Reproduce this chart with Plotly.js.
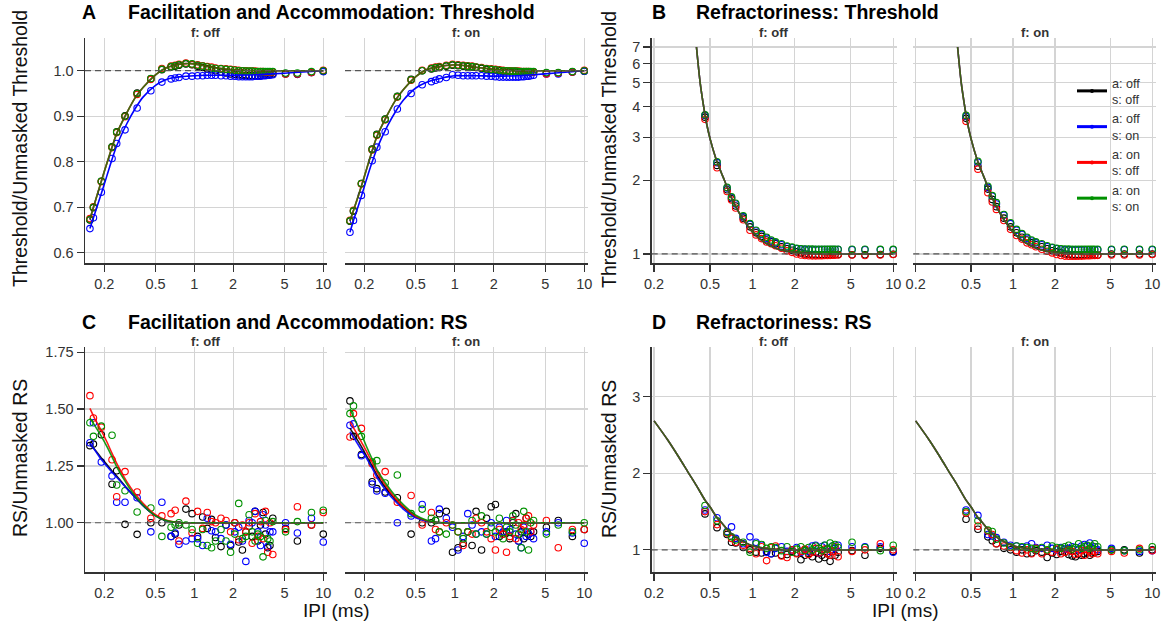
<!DOCTYPE html>
<html><head><meta charset="utf-8">
<script src="https://cdn.plot.ly/plotly-3.0.1.min.js"></script>
<style>html,body{margin:0;padding:0;background:#fff}#plot{width:1168px;height:622px}</style>
</head><body><div id="plot"></div>
<script>
// ---------- categories / series ----------
const seriesNames = ['a: off<br>s: off','a: off<br>s: on','a: on<br>s: off','a: on<br>s: on'];
const seriesColors = ['#000000','#0000ff','#ff0000','#009100'];
const facetLabels = ['f: off','f: on'];
const xTickVals = [0.2,0.5,1,2,5,10];
const xTickText = ['0.2','0.5','1','2','5','10'];

// IPI values (ms)
const ipi = [0.155,0.165,0.19,0.23,0.25,0.29,0.36,0.46,0.56,0.66,0.71,0.76,0.86,0.96,1.06,1.16,1.26,1.36,1.46,1.61,1.76,1.91,2.06,2.21,2.36,2.51,2.66,2.81,2.96,3.11,3.26,3.41,3.56,3.71,3.86,4.06,5.1,6.3,8.1,10];
const ipiLate = [0.46,0.56,0.66,0.71,0.76,0.86,0.96,1.06,1.16,1.26,1.36,1.46,1.61,1.76,1.91,2.06,2.21,2.36,2.51,2.66,2.81,2.96,3.11,3.26,3.41,3.56,3.71,3.86,4.06,5.1,6.3,8.1,10];

// ---------- A: Facilitation and Accommodation: Threshold ----------
const A0k = [0.672,0.699,0.757,0.833,0.866,0.901,0.951,0.982,1.002,1.008,1.010,1.012,1.015,1.013,1.010,1.007,1.004,1.002,1.000,0.997,0.995,0.993,0.992,0.991,0.990,0.990,0.989,0.989,0.989,0.989,0.989,0.990,0.990,0.991,0.992,0.993,0.993,0.992,0.996,0.999];
const A0b = [0.653,0.677,0.733,0.807,0.840,0.870,0.918,0.956,0.975,0.982,0.984,0.985,0.988,0.988,0.989,0.989,0.990,0.990,0.990,0.989,0.989,0.988,0.988,0.987,0.987,0.987,0.987,0.987,0.988,0.988,0.988,0.989,0.989,0.990,0.990,0.991,0.994,0.993,0.996,0.998];
const A0r = [0.675,0.701,0.756,0.831,0.864,0.899,0.948,0.981,1.005,1.010,1.012,1.014,1.017,1.014,1.013,1.011,1.009,1.008,1.006,1.005,1.004,1.003,1.002,1.001,1.000,1.000,0.999,0.999,0.999,0.998,0.998,0.998,0.997,0.997,0.997,0.997,0.993,0.993,0.996,1.001];
const A0g = [0.673,0.700,0.757,0.832,0.865,0.900,0.950,0.983,1.003,1.009,1.011,1.013,1.016,1.015,1.012,1.010,1.008,1.006,1.005,1.004,1.003,1.002,1.001,1.000,1.000,0.999,0.999,0.999,0.998,0.998,0.998,0.998,0.998,0.998,0.998,0.998,0.995,0.995,0.998,1.000];
const A1k = [0.669,0.691,0.752,0.828,0.860,0.894,0.944,0.981,1.000,1.004,1.006,1.007,1.010,1.012,1.011,1.010,1.009,1.008,1.007,1.005,1.003,1.002,1.001,1.000,0.999,0.999,0.998,0.998,0.998,0.997,0.997,0.997,0.997,0.997,0.997,0.997,0.995,0.995,0.997,0.999];
const A1b = [0.645,0.671,0.726,0.802,0.832,0.866,0.916,0.950,0.969,0.976,0.979,0.982,0.985,0.991,0.990,0.989,0.989,0.989,0.989,0.989,0.988,0.988,0.987,0.986,0.986,0.986,0.986,0.986,0.986,0.986,0.987,0.987,0.988,0.988,0.989,0.990,0.993,0.993,0.997,0.999];
const A1r = [0.671,0.693,0.751,0.826,0.858,0.892,0.942,0.979,1.001,1.006,1.008,1.009,1.012,1.014,1.013,1.012,1.011,1.010,1.008,1.007,1.005,1.004,1.003,1.002,1.001,1.000,1.000,0.999,0.999,0.999,0.998,0.998,0.998,0.998,0.997,0.997,0.993,0.995,0.997,1.001];
const A1g = [0.670,0.692,0.752,0.827,0.859,0.893,0.943,0.980,1.000,1.005,1.007,1.008,1.011,1.013,1.012,1.011,1.010,1.009,1.008,1.006,1.004,1.003,1.002,1.001,1.000,1.000,0.999,0.999,0.999,0.998,0.998,0.998,0.998,0.998,0.998,0.998,0.996,0.996,0.998,1.000];
// fitted curves
const cxA = [0.155,0.165,0.18,0.2,0.22,0.25,0.3,0.35,0.4,0.5,0.6,0.7,0.8,0.9,1,1.2,1.5,2,3,4,6,10];
const cA0top  = [0.673,0.700,0.735,0.778,0.815,0.862,0.908,0.942,0.963,0.991,1.006,1.012,1.015,1.016,1.015,1.011,1.006,1.002,1.000,1.000,1.000,1.000];
const cA0blue = [0.653,0.677,0.710,0.750,0.788,0.835,0.884,0.918,0.942,0.968,0.980,0.985,0.987,0.988,0.989,0.990,0.990,0.990,0.991,0.993,0.996,1.000];
const cA1top  = [0.670,0.693,0.725,0.767,0.806,0.855,0.902,0.936,0.958,0.987,1.002,1.007,1.010,1.012,1.013,1.011,1.007,1.003,1.000,1.000,1.000,1.000];
const cA1blue = [0.645,0.671,0.703,0.745,0.783,0.828,0.877,0.911,0.935,0.962,0.974,0.980,0.984,0.987,0.989,0.989,0.989,0.988,0.989,0.991,0.995,1.000];

// ---------- B: Refractoriness: Threshold ----------
const B0k = [3.62,2.30,1.83,1.68,1.57,1.40,1.29,1.22,1.18,1.14,1.12,1.10,1.07,1.05,1.035,1.02,1.01,1.0,0.995,0.993,0.992,0.992,0.992,0.993,0.993,0.994,0.994,0.995,0.995,0.993,0.993,0.995,0.997];
const B0b = [3.68,2.36,1.86,1.70,1.60,1.42,1.32,1.24,1.20,1.16,1.13,1.11,1.09,1.07,1.06,1.05,1.046,1.044,1.043,1.042,1.042,1.042,1.042,1.042,1.042,1.042,1.042,1.042,1.042,1.04,1.04,1.04,1.04];
const B0r = [3.55,2.25,1.80,1.66,1.54,1.38,1.25,1.196,1.155,1.12,1.10,1.08,1.055,1.03,1.015,1.0,0.99,0.985,0.983,0.982,0.982,0.983,0.984,0.985,0.986,0.987,0.988,0.989,0.99,0.99,0.985,0.99,0.995];
const B0g = [3.70,2.38,1.87,1.71,1.61,1.43,1.33,1.25,1.21,1.17,1.14,1.12,1.10,1.078,1.066,1.055,1.05,1.048,1.047,1.046,1.045,1.045,1.045,1.045,1.045,1.045,1.045,1.045,1.045,1.045,1.045,1.044,1.044];
const B1k = [3.58,2.28,1.84,1.67,1.56,1.40,1.29,1.22,1.17,1.14,1.11,1.09,1.07,1.05,1.03,1.02,1.01,1.0,0.995,0.99,0.99,0.99,0.99,0.99,0.99,0.99,0.99,0.99,0.99,1.0,1.0,1.0,1.0];
const B1b = [3.64,2.37,1.87,1.72,1.60,1.44,1.33,1.25,1.20,1.16,1.13,1.11,1.09,1.07,1.06,1.05,1.045,1.04,1.04,1.04,1.04,1.04,1.04,1.04,1.04,1.04,1.04,1.04,1.04,1.04,1.04,1.04,1.04];
const B1r = [3.48,2.22,1.78,1.63,1.52,1.37,1.26,1.19,1.15,1.11,1.09,1.07,1.045,1.025,1.01,0.995,0.985,0.98,0.978,0.978,0.978,0.98,0.98,0.982,0.983,0.984,0.985,0.986,0.987,0.99,0.99,0.99,0.995];
const B1g = [3.68,2.39,1.89,1.73,1.62,1.45,1.34,1.26,1.21,1.17,1.14,1.12,1.10,1.08,1.065,1.055,1.05,1.047,1.046,1.045,1.045,1.045,1.045,1.045,1.045,1.045,1.045,1.045,1.045,1.045,1.045,1.045,1.045];
const cxB = [0.4,0.425,0.45,0.47,0.5,0.55,0.6,0.632,0.7,0.8,0.9,1,1.2,1.5,2,3,4,6,10];
const cB  = [7.0,5.0,4.0,3.45,2.95,2.45,2.15,2.0,1.72,1.48,1.33,1.23,1.12,1.05,1.015,1.0,1.0,1.0,1.0];

// ---------- C: Facilitation and Accommodation: RS ----------
const C0k = [1.339,1.346,1.387,1.169,1.229,0.993,0.949,1.000,1.000,0.940,0.950,0.990,1.060,1.040,0.940,1.025,0.975,1.015,0.935,0.895,0.990,0.900,1.000,0.915,0.880,0.960,0.985,0.940,1.050,0.920,0.990,1.045,0.950,0.890,0.900,1.020,0.975,0.920,0.990,0.950];
const C0b = [1.352,1.440,1.267,1.206,1.090,1.090,1.110,0.960,1.090,0.940,0.955,0.905,0.920,0.930,0.930,0.900,1.020,0.965,0.960,0.930,0.990,0.905,0.960,0.980,0.920,0.830,1.010,1.000,1.050,0.960,0.900,1.035,0.990,0.895,0.960,0.960,1.000,0.955,1.020,0.915];
const C0r = [1.559,1.461,1.420,1.277,1.114,1.225,1.135,1.020,1.030,1.040,1.055,0.920,1.095,0.955,1.050,0.975,1.045,1.005,1.000,1.020,1.010,0.960,1.000,0.925,0.990,0.960,1.000,0.910,1.040,0.940,1.005,0.930,1.050,0.870,1.000,0.860,0.970,1.070,0.990,1.045];
const C0g = [1.440,1.380,1.425,1.385,1.166,1.141,1.047,1.065,0.940,0.980,0.990,1.000,0.990,0.970,0.910,0.970,0.900,0.890,0.920,0.970,0.920,0.870,0.950,1.085,0.930,0.940,1.035,0.960,0.920,0.950,0.940,0.850,1.010,0.930,0.920,1.005,0.960,1.005,1.045,1.055];
const C1k = [1.536,1.380,1.300,1.180,1.150,1.135,1.110,0.950,1.000,1.000,1.010,1.040,1.050,0.870,0.890,0.910,0.960,0.900,1.050,0.880,1.020,1.070,1.080,0.940,0.950,0.960,0.930,1.000,1.040,0.920,0.960,0.930,1.020,0.950,0.940,0.960,0.980,1.010,0.940,0.970];
const C1b = [1.429,1.435,1.295,1.170,1.140,1.130,1.000,1.030,1.080,0.920,0.930,1.060,1.020,0.980,0.880,0.940,1.040,0.990,0.950,0.960,0.950,1.000,0.940,0.980,0.960,1.010,0.970,1.010,0.950,0.920,0.890,0.980,0.940,0.950,0.960,0.930,0.960,1.000,0.955,0.910];
const C1r = [1.377,1.480,1.415,1.260,1.210,1.225,1.090,1.120,0.990,1.045,0.970,0.960,1.000,0.990,0.960,0.900,0.960,0.950,1.020,1.000,0.960,0.930,0.880,0.970,0.950,0.870,0.940,1.010,0.930,1.000,0.970,0.990,1.020,1.030,0.960,0.990,1.010,0.890,0.970,0.970];
const C1g = [1.480,1.514,1.380,1.267,1.273,1.175,1.210,1.040,1.060,1.020,1.010,0.960,0.950,0.990,0.960,0.930,0.960,1.010,0.950,1.030,0.950,0.980,0.960,1.020,0.930,0.980,0.960,1.030,0.990,0.950,0.890,1.050,0.960,0.880,1.000,1.010,0.950,0.990,0.960,1.000];
const cxC = [0.155,0.17,0.19,0.21,0.23,0.25,0.3,0.35,0.4,0.5,0.6,0.7,0.8,1,10];
const cC0k = [1.345,1.320,1.285,1.255,1.228,1.205,1.152,1.110,1.075,1.030,1.010,1.002,1.000,1.000,1.000];
const cC0b = [1.350,1.318,1.278,1.248,1.222,1.200,1.150,1.110,1.076,1.031,1.010,1.002,1.000,1.000,1.000];
const cC0r = [1.503,1.455,1.405,1.355,1.305,1.261,1.180,1.125,1.085,1.035,1.012,1.003,1.000,1.000,1.000];
const cC0g = [1.460,1.425,1.380,1.335,1.290,1.246,1.170,1.115,1.078,1.030,1.010,1.003,1.000,1.000,1.000];
const cC1k = [1.415,1.380,1.335,1.290,1.250,1.210,1.145,1.100,1.068,1.026,1.009,1.002,1.000,1.000,1.000];
const cC1b = [1.400,1.365,1.320,1.280,1.240,1.200,1.135,1.092,1.060,1.022,1.008,1.002,1.000,1.000,1.000];
const cC1r = [1.445,1.405,1.355,1.310,1.265,1.225,1.155,1.105,1.072,1.028,1.010,1.002,1.000,1.000,1.000];
const cC1g = [1.500,1.450,1.390,1.330,1.280,1.235,1.165,1.115,1.080,1.033,1.012,1.003,1.000,1.000,1.000];

// ---------- D: Refractoriness: RS ----------
const D0k = [1.47,1.29,1.20,1.10,1.09,1.03,1.0,0.97,0.96,0.98,0.95,0.96,0.93,0.94,0.98,0.96,0.87,0.93,0.95,0.91,0.97,0.88,0.93,0.90,0.95,0.85,0.98,0.93,0.97,0.99,0.93,1.02,0.98];
const D0b = [1.52,1.42,1.24,1.30,1.15,1.08,1.17,1.10,1.06,0.97,0.95,1.02,1.04,0.98,1.00,1.03,0.97,1.00,0.98,1.05,1.06,0.96,1.04,1.06,1.02,0.98,1.05,1.02,1.06,1.04,1.04,1.04,0.97];
const D0r = [1.50,1.33,1.22,1.15,1.10,1.06,1.02,0.95,1.04,0.86,1.03,1.05,0.92,0.90,1.00,0.95,0.98,1.01,0.94,0.97,1.02,0.96,0.99,1.01,0.95,0.93,0.98,1.04,0.91,0.98,1.00,1.08,1.00];
const D0g = [1.58,1.38,1.23,1.17,1.13,1.10,0.97,1.08,1.07,1.02,1.04,1.03,0.99,1.04,0.97,1.01,1.04,0.99,1.03,1.00,1.05,1.02,0.99,1.06,1.01,1.09,1.05,1.07,1.03,1.10,1.03,0.99,1.06];
const D1k = [1.40,1.27,1.17,1.12,1.08,1.02,1.00,0.97,1.00,0.95,0.96,0.99,0.97,0.90,0.96,0.94,0.98,0.97,0.94,0.92,0.91,0.95,0.93,0.95,0.96,0.93,0.96,0.97,0.98,1.00,1.00,0.96,1.00];
const D1b = [1.52,1.45,1.20,1.18,1.16,1.10,1.06,1.05,1.03,1.05,1.08,1.03,1.02,1.06,1.02,1.00,1.03,1.01,1.02,1.04,1.03,1.00,1.05,1.07,1.05,1.09,1.02,1.04,1.00,1.02,0.99,0.98,0.99];
const D1r = [1.48,1.31,1.25,1.20,1.08,1.05,1.03,0.99,0.96,1.00,0.95,1.02,0.95,0.99,0.97,1.01,0.95,0.97,1.00,0.98,0.94,0.96,0.99,0.93,1.00,0.98,0.95,0.98,0.95,0.98,0.96,1.02,0.99];
const D1g = [1.50,1.38,1.26,1.24,1.14,1.09,1.04,1.05,1.04,1.03,1.02,1.01,1.03,1.00,1.05,1.03,1.02,1.04,1.06,1.01,1.03,1.08,1.02,1.04,1.06,1.02,1.05,1.08,1.04,1.00,0.99,1.00,1.04];
const cxD = [0.2,0.25,0.3,0.35,0.4,0.46,0.5,0.56,0.6,0.7,0.8,0.86,1,1.3,1.6,2,3,5,10];
const cD  = [2.685,2.435,2.21,2.01,1.84,1.65,1.56,1.42,1.36,1.22,1.14,1.11,1.053,1.015,1.003,1.0,1.0,1.0,1.0];

// ---------- build ----------
function rgba(hex, a){
  const n = parseInt(hex.slice(1),16);
  return 'rgba('+((n>>16)&255)+','+((n>>8)&255)+','+(n&255)+','+a+')';
}
const traces = [];
function addPoints(ax, xs, ys4){
  ys4.forEach((ys,i)=>{
    traces.push({type:'scatter', mode:'markers', x:xs, y:ys, xaxis:'x'+ax, yaxis:'y'+ax,
      showlegend:false, hoverinfo:'skip',
      marker:{symbol:'circle-open', size:6.5, color:seriesColors[i], line:{width:1.1, color:seriesColors[i]}}});
  });
}
function addCurves(ax, cx, cy4, alphas){
  cy4.forEach((cy,i)=>{
    traces.push({type:'scatter', mode:'lines', x:cx, y:cy, xaxis:'x'+ax, yaxis:'y'+ax,
      showlegend:false, hoverinfo:'skip',
      line:{color:rgba(seriesColors[i],alphas[i]), width:1.6, shape:'spline', smoothing:0.8}});
  });
}
const olive = [0.65,0.65,0.65,0.65];
const aMix = [0.65,1,0.65,0.65];
const solid = [0.9,0.9,0.9,0.9];
// A
addPoints(1, ipi, [A0k,A0b,A0r,A0g]); addCurves(1, cxA, [cA0top,cA0blue,cA0top,cA0top], aMix);
addPoints(2, ipi, [A1k,A1b,A1r,A1g]); addCurves(2, cxA, [cA1top,cA1blue,cA1top,cA1top], aMix);
// B
addPoints(3, ipiLate, [B0k,B0b,B0r,B0g]); addCurves(3, cxB, [cB,cB,cB,cB], olive);
addPoints(4, ipiLate, [B1k,B1b,B1r,B1g]); addCurves(4, cxB, [cB,cB,cB,cB], olive);
// C
addPoints(5, ipi, [C0k,C0b,C0r,C0g]); addCurves(5, cxC, [cC0k,cC0b,cC0r,cC0g], solid);
addPoints(6, ipi, [C1k,C1b,C1r,C1g]); addCurves(6, cxC, [cC1k,cC1b,cC1r,cC1g], solid);
// D
addPoints(7, ipiLate, [D0k,D0b,D0r,D0g]); addCurves(7, cxD, [cD,cD,cD,cD], olive);
addPoints(8, ipiLate, [D1k,D1b,D1r,D1g]); addCurves(8, cxD, [cD,cD,cD,cD], olive);
// legend entries
seriesNames.forEach((nm,i)=>{
  traces.push({type:'scatter', mode:'lines+markers', x:[null], y:[null], xaxis:'x4', yaxis:'y4',
    name:nm, showlegend:true, line:{color:seriesColors[i], width:3}, marker:{size:4, color:seriesColors[i]}});
});

const W = 1168, H = 622;
const px = v => v/W, py = v => 1 - v/H;
const colDom = [[85,327],[345,588],[651.7,897],[913.3,1156]];
const rowDom = [[38,263],[347,572.3]];
const xRanges = [[-0.848,1.029],[-0.848,1.029],[-0.716,1.027],[-0.716,1.027]];
const FONT = 'Liberation Sans, Arial, Helvetica, sans-serif';
const gridC = '#d4d4d4', axC = '#333333';

const yConf = [
  {type:'linear', range:[0.5774,1.0719], tickvals:[0.6,0.7,0.8,0.9,1.0], ticktext:['0.6','0.7','0.8','0.9','1.0']},
  {type:'log', range:[-0.037,0.882], tickvals:[1,2,3,4,5,6,7], ticktext:['1','2','3','4','5','6','7']},
  {type:'linear', range:[0.782,1.773], tickvals:[1.0,1.25,1.5,1.75], ticktext:['1.00','1.25','1.50','1.75']},
  {type:'linear', range:[0.707,3.65], tickvals:[1,2,3], ticktext:['1','2','3']}
];

const layout = {
  width:W, height:H, margin:{l:0,r:0,t:0,b:0}, paper_bgcolor:'#fff', plot_bgcolor:'rgba(0,0,0,0)',
  font:{family:FONT, color:'#333'},
  showlegend:true,
  legend:{x:px(1072), y:py(68), xanchor:'left', yanchor:'top', bgcolor:'rgba(0,0,0,0)', borderwidth:0,
    font:{size:12.6, color:'#333', family:FONT}, tracegroupgap:0, itemwidth:30},
  annotations:[], shapes:[]
};

for(let k=1;k<=8;k++){
  const panel = Math.floor((k-1)/2);       // 0 A,1 B,2 C,3 D
  const col = (panel%2)*2 + ((k-1)%2);
  const row = panel<2 ? 0 : 1;
  const isLeft = ((k-1)%2)===0;
  const yc = yConf[panel];
  layout['xaxis'+k] = {domain:[px(colDom[col][0]), px(colDom[col][1])], anchor:'y'+k, type:'log',
    range:xRanges[col], tickvals:xTickVals, ticktext:xTickText, ticks:'outside', ticklen:7, tickwidth:1.2,
    tickcolor:axC, showline:true, linecolor:axC, linewidth:1.5, showgrid:true, gridcolor:gridC, gridwidth:1.2,
    zeroline:false, tickfont:{size:14.5, color:'#333', family:FONT}, fixedrange:true};
  layout['yaxis'+k] = {domain:[py(rowDom[row][1]), py(rowDom[row][0])], anchor:'x'+k, type:yc.type,
    range:yc.range, tickvals:yc.tickvals, ticktext:yc.ticktext, showgrid:true, gridcolor:gridC, gridwidth:1.2,
    zeroline:false, fixedrange:true,
    ticks: isLeft?'outside':'', ticklen:7, tickwidth:1.2, tickcolor:axC,
    showline:isLeft, linecolor:axC, linewidth:1.5, showticklabels:isLeft,
    tickfont:{size:14.5, color:'#333', family:FONT}};
  layout.shapes.push({type:'line', xref:'x'+k+' domain', yref:'y'+k, x0:0, x1:1, y0:1, y1:1,
    line:{color:'#555555', width:1.2, dash:'6px,4px'}, layer:'above'});
  // facet label
  layout.annotations.push({xref:'paper', yref:'paper', x:px((colDom[col][0]+colDom[col][1])/2), y:py(rowDom[row][0]-5.5),
    xanchor:'center', yanchor:'middle', text:facetLabels[(k-1)%2], showarrow:false,
    font:{size:13, color:'#333', family:FONT, weight:'bold'}});
}

const titles = [
  {letter:'A', text:'Facilitation and Accommodation: Threshold', lx:89, tx:126, y:12.5},
  {letter:'B', text:'Refractoriness: Threshold', lx:659, tx:694, y:12.5},
  {letter:'C', text:'Facilitation and Accommodation: RS', lx:89, tx:126, y:322},
  {letter:'D', text:'Refractoriness: RS', lx:659, tx:694, y:322}
];
titles.forEach(t=>{
  layout.annotations.push({xref:'paper', yref:'paper', x:px(t.lx), y:py(t.y), xanchor:'center', yanchor:'middle',
    text:t.letter, showarrow:false, font:{size:19.5, color:'#000', family:FONT, weight:'bold'}});
  layout.annotations.push({xref:'paper', yref:'paper', x:px(t.tx), y:py(t.y), xanchor:'left', yanchor:'middle',
    text:t.text, showarrow:false, font:{size:19.5, color:'#000', family:FONT, weight:'bold'}});
});
const yTitles = [
  {text:'Threshold/Unmasked Threshold', x:20, y:149},
  {text:'Threshold/Unmasked Threshold', x:609, y:149},
  {text:'RS/Unmasked RS', x:20, y:458},
  {text:'RS/Unmasked RS', x:609, y:459}
];
yTitles.forEach(t=>{
  layout.annotations.push({xref:'paper', yref:'paper', x:px(t.x), y:py(t.y), xanchor:'center', yanchor:'middle',
    text:t.text, textangle:-90, showarrow:false, font:{size:19.5, color:'#111', family:FONT}});
});
[{x:336,y:610.5},{x:905,y:610.5}].forEach(t=>{
  layout.annotations.push({xref:'paper', yref:'paper', x:px(t.x), y:py(t.y), xanchor:'center', yanchor:'middle',
    text:'IPI (ms)', showarrow:false, font:{size:19, color:'#111', family:FONT}, borderpad:0});
});

Plotly.newPlot('plot', traces, layout, {staticPlot:true, displayModeBar:false});
</script></body></html>
